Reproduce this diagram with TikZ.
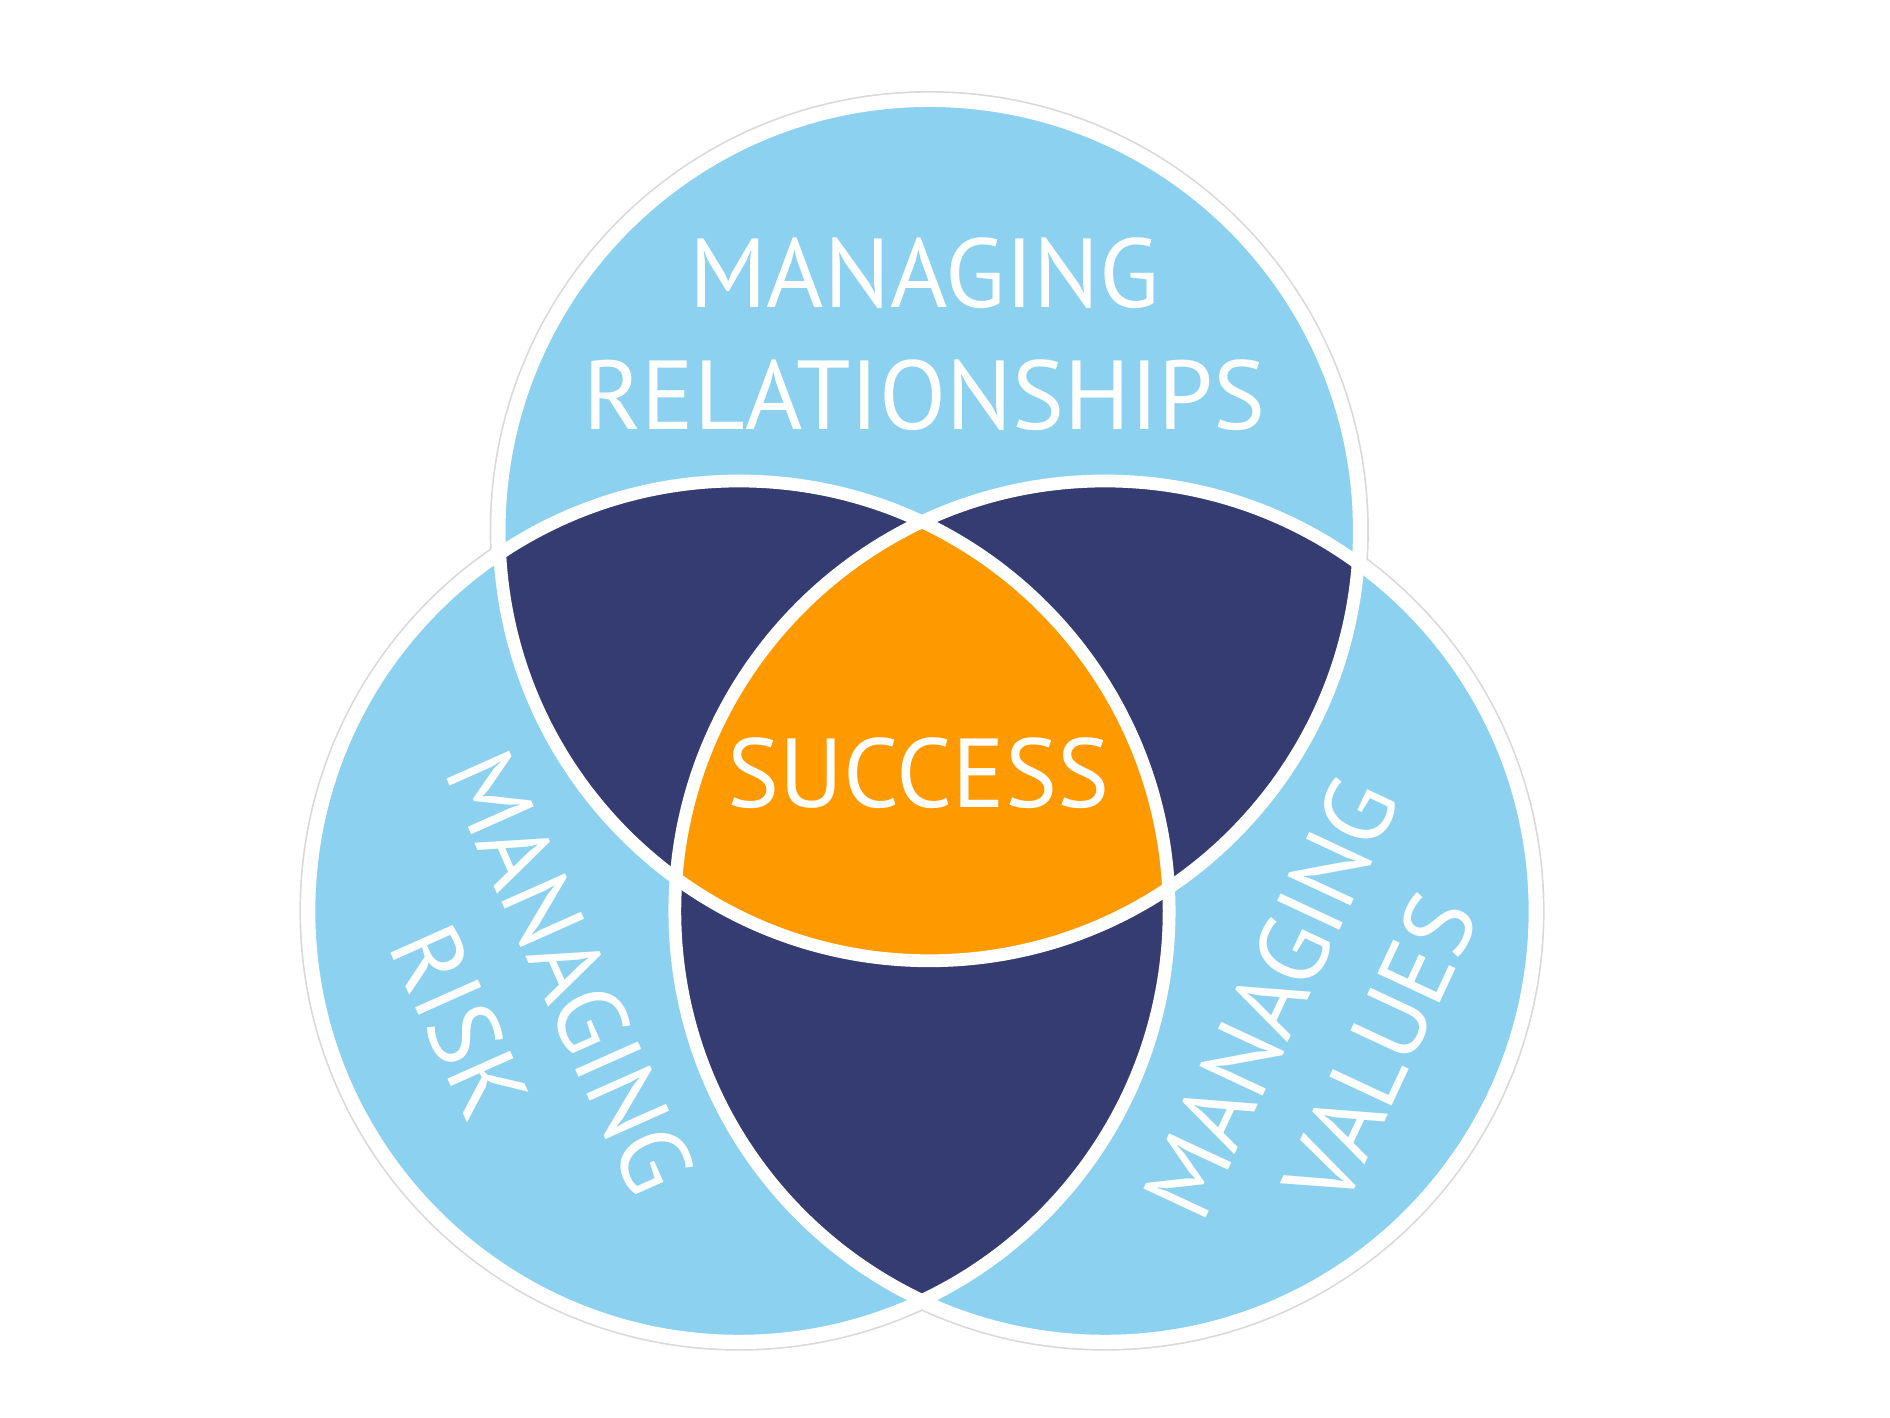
\documentclass[tikz,border=0pt]{standalone}
\usepackage{fontspec}
\setmainfont{PT Sans}
\definecolor{lblue}{HTML}{8CD1F0}
\definecolor{navy}{HTML}{343C72}
\definecolor{orng}{HTML}{FF9900}
\begin{document}
\begin{tikzpicture}[x=0.01cm,y=-0.01cm,
  lbl/.style={text=white,font=\fontsize{23}{28.5}\selectfont,align=center,inner sep=0pt}]
\useasboundingbox (0,0) rectangle (1560,1170);
\def\R{355}
\coordinate (T) at (767,438);
\coordinate (L) at (610,752);
\coordinate (Rc) at (912,752);
\foreach \c in {T,L,Rc} \draw[gray!30,line width=0.5pt] (\c) circle (\R+7);
\foreach \c in {T,L,Rc} \fill[white] (\c) circle (\R+6.5);
\foreach \c in {T,L,Rc} \fill[lblue] (\c) circle (\R);
\begin{scope}\clip (T) circle (\R); \fill[navy] (L) circle (\R); \fill[navy] (Rc) circle (\R);\end{scope}
\begin{scope}\clip (L) circle (\R); \fill[navy] (Rc) circle (\R);\end{scope}
\begin{scope}\clip (T) circle (\R); \clip (L) circle (\R); \fill[orng] (Rc) circle (\R);\end{scope}
\foreach \c in {T,L,Rc} \draw[white,line width=3pt] (\c) circle (\R);
\node[lbl] (rel) at (763,276) {MANAGING\\RELATIONSHIPS};
\node[lbl] (suc) at (758,638) {SUCCESS};
\node[lbl,rotate=-66] (risk) at (425,823) {MANAGING\\RISK};
\node[lbl,rotate=65] (val) at (1094,845) {MANAGING\\VALUES};
\end{tikzpicture}
\end{document}
